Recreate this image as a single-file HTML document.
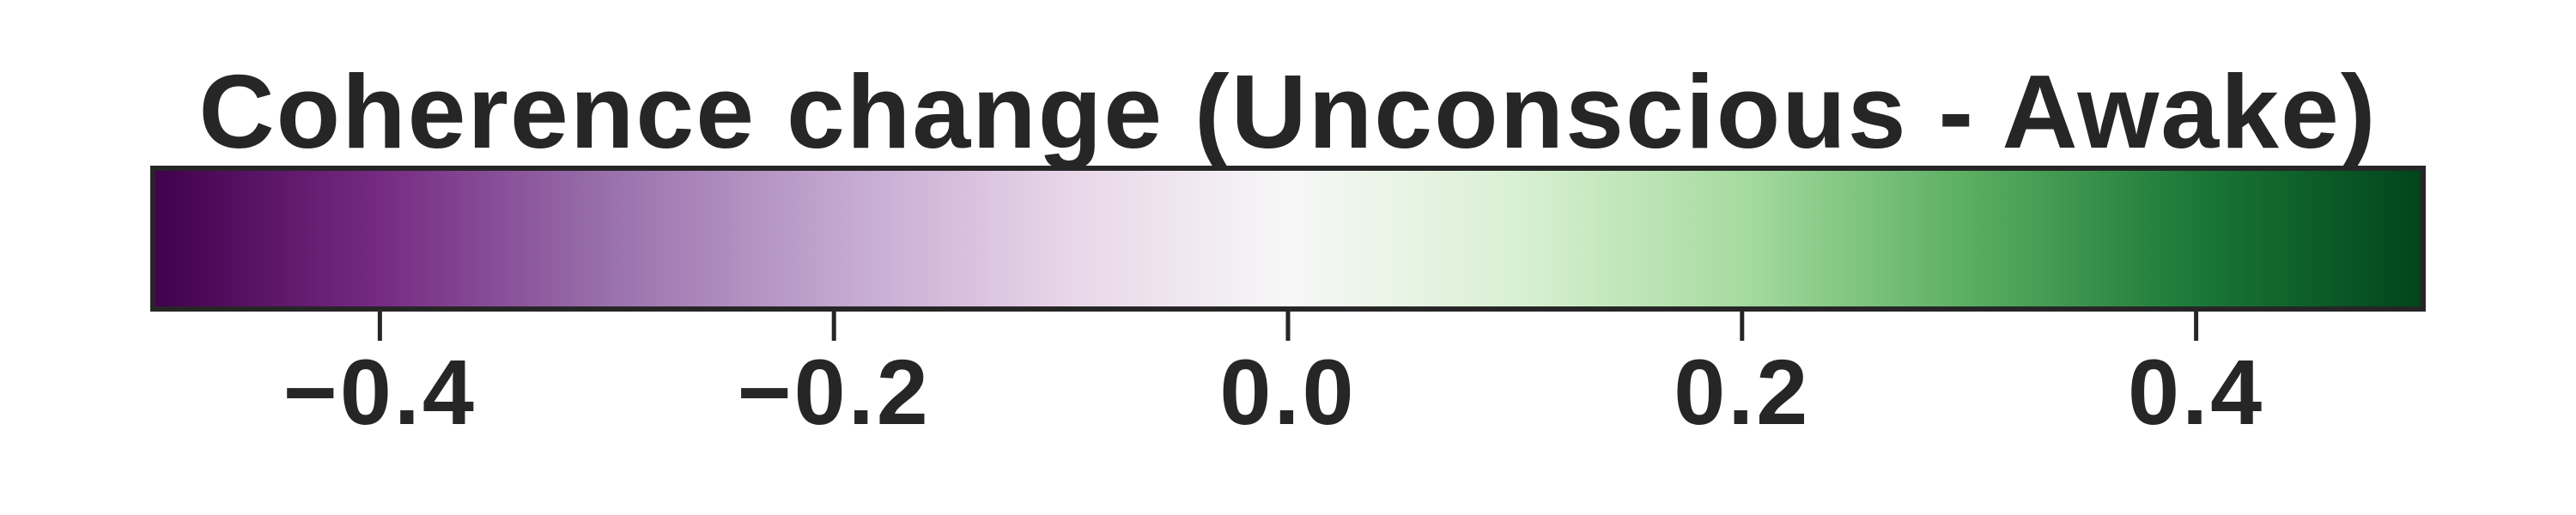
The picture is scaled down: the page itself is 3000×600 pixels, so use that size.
<!DOCTYPE html>
<html>
<head>
<meta charset="utf-8">
<style>
html,body{margin:0;padding:0;background:#fff;}
svg{display:block;}
text{font-family:"Liberation Sans",Arial,sans-serif;font-weight:bold;fill:#262626;}
</style>
</head>
<body>
<svg id="chart" width="3000" height="600" viewBox="0 0 3000 600" xmlns="http://www.w3.org/2000/svg">
  <defs>
    <linearGradient id="prgn" x1="0" x2="1" y1="0" y2="0"></linearGradient>
  </defs>
  <text x="1500" y="172" font-size="122" letter-spacing="2" text-anchor="middle">Coherence change (Unconscious - Awake)</text>
  <rect x="178" y="196" width="2644" height="164" fill="url(#prgn)" stroke="#262626" stroke-width="6"/>
  <g id="ticks"></g>
</svg>
<script>
const tickValues = [-0.4, -0.2, 0.0, 0.2, 0.4];
const tickLabels = ["\u22120.4", "\u22120.2", "0.0", "0.2", "0.4"];
const colorStops = ["#40004b","#762a83","#9970ab","#c2a5cf","#e7d4e8","#f7f7f7","#d9f0d3","#a6dba0","#5aae61","#1b7837","#00441b"];
const domain = [-0.5, 0.5];

const NS = "http://www.w3.org/2000/svg";
const x0 = 178, x1 = 2822;
function xScale(v){ return x0 + (v - domain[0]) / (domain[1] - domain[0]) * (x1 - x0); }

const grad = document.getElementById("prgn");
colorStops.forEach((c, i) => {
  const s = document.createElementNS(NS, "stop");
  s.setAttribute("offset", (i / (colorStops.length - 1) * 100) + "%");
  s.setAttribute("stop-color", c);
  grad.appendChild(s);
});

const g = document.getElementById("ticks");
tickValues.forEach((v, i) => {
  const x = xScale(v);
  const l = document.createElementNS(NS, "line");
  
  
  l.setAttribute("x1", x); l.setAttribute("x2", x);
  l.setAttribute("y1", 360); l.setAttribute("y2", 397);
  l.setAttribute("stroke", "#262626"); l.setAttribute("stroke-width", 5);
  g.appendChild(l);
  const t = document.createElementNS(NS, "text");
  
  
  t.setAttribute("x", x); t.setAttribute("y", 494);
  t.setAttribute("font-size", "108");
  t.setAttribute("letter-spacing", "3");
  t.setAttribute("text-anchor", "middle");
  t.textContent = tickLabels[i];
  g.appendChild(t);
});
</script>
</body>
</html>
